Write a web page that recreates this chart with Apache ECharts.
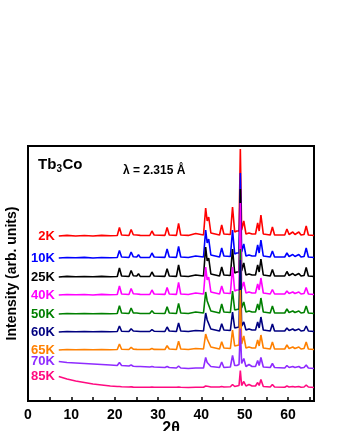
<!DOCTYPE html>
<html>
<head>
<meta charset="utf-8">
<script src="https://cdn.jsdelivr.net/npm/echarts@6/dist/echarts.min.js"></script>
<style>
  html, body { margin: 0; padding: 0; background: #fff; }
  #chart { width: 339px; height: 431px; }
</style>
</head>
<body>
<div id="chart"></div>
<script>
// 2theta sample points (peak tops and the baseline between them)
var twoTheta = [
  7.1, 9, 11, 13, 15, 17, 19, 20.6, 21.1, 21.6, 23.3,
  23.8, 24.3, 25.1, 25.5, 25.9, 28.1, 28.6, 29.1, 31.6, 32.1, 32.6,
  34.25, 34.75, 35.25, 37, 38.7, 40.5, 41.0, 41.35, 41.7, 42.2, 44.2,
  44.7, 45.2, 46.7, 47.2, 47.7, 48.2, 48.7, 49.0, 49.3, 49.8, 50.3,
  51.0, 51.7, 52.5, 53.0, 53.35, 53.75, 54.3, 55.9, 56.4, 56.9, 59.25,
  59.75, 60.25, 61.1, 61.6, 62.0, 62.5, 63.0, 63.7, 64.2, 64.7, 66.0
];

var temps = ['2K', '10K', '25K', '40K', '50K', '60K', '65K', '70K', '85K'];
// vertical shift of each pattern
var offsets = [165, 143, 124, 106, 87, 69, 51, 32.5, 13.5];
var colors = ['#ff0000', '#0000ff', '#000000', '#ff00ff', '#008000', '#000080', '#ff8000', '#8f2cff', '#ff0a80'];

// intensity above baseline
var i2K = [
  0, 0.6, 0, 0.5, 0, 0.6, 0.2, 0.5, 8.5, 1, 0.5,
  6.5, 1.2, 1, 3, 0.6, 0.5, 5, 1, 0.6, 8.5, 1,
  0.6, 12.5, 1, 0.6, 2.5, 1, 28, 15, 19, 3, 1,
  11, 2, 1.5, 29, 4, 5, 5, 87, 6, 15, 2,
  3, 2, 2, 13, 5, 21, 2, 1, 9, 1, 1,
  7, 1.5, 4, 1.5, 1, 4, 1, 1.5, 10, 1, 0.5
];
var i10K = [
  0, 0.5, 0.2, 0.6, 0, 0.5, 0.3, 0.5, 7.5, 1, 0.5,
  6, 1.2, 1, 3.3, 0.6, 0.5, 5, 1, 0.6, 9, 1,
  0.6, 11.5, 1, 0.5, 2, 1, 28, 15, 19, 3, 1,
  10, 2, 1.5, 28, 4, 5, 5, 85, 6, 14, 2,
  3, 2, 2, 13, 5, 18, 2, 1, 7, 1, 1,
  5, 1.5, 3.5, 1.5, 1, 3.5, 1, 1.5, 10, 1, 0.5
];
var i25K = [
  0, 0.6, 0.3, 0.5, 0.2, 0.6, 0.3, 0.5, 9, 1, 0.5,
  6.5, 1.2, 1, 3.3, 0.6, 0.5, 5, 1, 0.6, 8.3, 1,
  0.6, 12, 1, 0.5, 2, 1, 30, 16, 19, 3, 1,
  10, 2, 1.5, 28, 4, 5, 5, 88, 6, 14, 2,
  3, 2, 2, 12, 5, 18, 2, 1, 7.5, 1, 1,
  5.5, 1.5, 3.5, 1.5, 1, 3.5, 1, 1.5, 9.5, 1, 0.5
];
var i40K = [
  0, 0.5, 0.2, 0.5, 0, 0.6, 0.2, 0.5, 9, 1, 0.5,
  6.5, 1.2, 1, 2.5, 0.6, 0.5, 5, 1, 0.6, 7.5, 1,
  0.6, 12.5, 1, 0.5, 2, 1, 28, 15, 18, 3, 1,
  9, 2, 1.5, 28, 4, 5, 5, 92, 6, 13, 2,
  3, 2, 2, 11, 5, 17, 2, 1, 5.5, 1, 1,
  4, 1.5, 3, 1.5, 1, 3, 1, 1.5, 7.5, 1, 0.5
];
var i50K = [
  0, 0.5, 0.2, 0.5, 0.2, 0.5, 0.3, 0.5, 8.3, 1, 0.5,
  6, 1, 1, 2, 0.5, 0.5, 3.3, 0.8, 0.5, 7.3, 1,
  0.5, 10.7, 1, 0.5, 2, 1, 22, 13, 13, 3, 1,
  10, 2, 1.5, 23, 4, 4.5, 5, 65, 6, 12, 2,
  3, 2, 2, 10, 4, 16, 2, 1, 8, 1, 1,
  5, 1.5, 3, 1.5, 1, 3, 1, 1.5, 8, 1, 0.5
];
var i60K = [
  0, 0.5, 0.2, 0.5, 0.2, 0.5, 0.3, 0.5, 6, 0.8, 0.5,
  3.3, 1, 0.8, 1.5, 0.5, 0.5, 2.3, 0.8, 0.5, 5, 1,
  0.5, 9, 1, 0.5, 1.5, 1, 19, 12, 12, 3, 1,
  8.3, 2, 1.5, 20, 4, 4.5, 5, 72, 6, 10, 2,
  3, 2, 2, 10, 4, 15, 2, 1, 8, 1, 1,
  4, 1.5, 3, 1.5, 1, 3, 1, 1.5, 6, 1, 0.5
];
var i65K = [
  0, 0.5, 0.2, 0.5, 0.2, 0.5, 0.3, 0.5, 6, 0.8, 0.5,
  2.7, 0.8, 0.6, 1, 0.5, 0.5, 1.5, 0.6, 0.5, 4.3, 1,
  0.5, 8.7, 1, 0.5, 1.5, 1, 16, 11, 12, 3, 1,
  8.3, 2, 1.5, 20, 4, 4.5, 5, 60, 6, 14, 2,
  3, 2, 2, 10, 4, 15, 2, 1, 8, 1, 1,
  5, 1.5, 3, 1.5, 1, 3, 1, 1.5, 8, 1, 0.5
];
var i70K = [
  7, 6, 5.5, 5, 4.5, 4, 3.5, 3, 6, 3, 2.5,
  3.5, 2.3, 2, 2, 2, 1.5, 2, 1.5, 1, 2, 1,
  0.5, 2.5, 0.5, 0, 0.5, 0.5, 11, 6, 8, 2, 1,
  6.5, 1, 1.5, 13, 3, 3, 4, 40, 5, 10, 2,
  4, 2, 2, 8, 3, 11, 1.5, 1, 5, 1, 0.5,
  3, 1, 2, 1, 1, 2, 0.5, 1, 3.5, 0.5, 0
];
var i85K = [
  11, 8.5, 6.5, 5, 3.5, 2.5, 1.5, 1, 1, 0.8, 0.5,
  0.6, 0.4, 0.3, 0.4, 0.3, 0.2, 0.4, 0.2, 0.2, 0.3, 0.2,
  0.2, 0.4, 0.2, 0, 0.3, 0.3, 1.5, 0.8, 1, 0.5, 0.5,
  1, 0.5, 0.8, 3, 1, 1.5, 2, 17, 2, 6, 1.5,
  3, 1.5, 1.5, 5, 2, 8, 1, 0.5, 3, 0.5, 0.3,
  1.5, 0.5, 1, 0.5, 0.5, 1, 0.3, 0.5, 2.5, 0.5, 0
];
var intensities = [i2K, i10K, i25K, i40K, i50K, i60K, i65K, i70K, i85K];

var xTicks = [0, 10, 20, 30, 40, 50, 60];

var font = 'Arial, "Liberation Sans", sans-serif';
var chart = echarts.init(document.getElementById('chart'));

var series = temps.map(function (name, k) {
  var data = twoTheta.map(function (t, i) {
    var p = [t, offsets[k] + intensities[k][i]];
    if (i === 0) {
      // temperature tag at the left end of each pattern
      return {
        value: p,
        label: {
          show: true, position: 'left', distance: 4, formatter: name,
          color: colors[k], fontSize: 13, fontWeight: 'bold', fontFamily: font
        }
      };
    }
    return p;
  });
  return {
    type: 'line',
    name: name,
    data: data,
    symbol: 'circle',
    symbolSize: 0,
    showSymbol: true,
    showAllSymbol: true,
    lineStyle: { color: colors[k], width: 1.6 },
    itemStyle: { color: colors[k] },
    label: { show: false },
    silent: true
  };
});

var option = {
  animation: false,
  grid: {
    left: 28, right: 25, top: 146, bottom: 30,
    outerBoundsMode: 'none',
    containLabel: false,
    show: true, borderColor: '#000', borderWidth: 2
  },
  xAxis: {
    type: 'value',
    min: 0, max: 66, interval: 5,
    name: '2θ', nameLocation: 'middle', nameGap: 20,
    nameMoveOverlap: false,
    nameTextStyle: { fontSize: 16, fontWeight: 'bold', color: '#000', fontFamily: font },
    axisLine: { lineStyle: { color: '#000', width: 2 } },
    axisTick: { inside: true, length: 4, lineStyle: { color: '#000', width: 1.5 } },
    axisLabel: {
      fontSize: 14, fontWeight: 'bold', color: '#000', fontFamily: font, margin: 7,
      formatter: function (v) { return xTicks.indexOf(v) >= 0 ? String(v) : ''; }
    },
    splitLine: { show: false }
  },
  yAxis: {
    type: 'value',
    min: 0, max: 255,
    name: 'Intensity (arb. units)', nameLocation: 'middle', nameGap: 9,
    nameMoveOverlap: false,
    nameTextStyle: { fontSize: 14, fontWeight: 'bold', color: '#000', fontFamily: font },
    axisLine: { show: true, lineStyle: { color: '#000', width: 2 } },
    axisTick: { show: false },
    axisLabel: { show: false },
    splitLine: { show: false }
  },
  graphic: [
    { type: 'text', left: 38, top: 157, style: { text: 'Tb', font: 'bold 15px ' + font, fill: '#000' } },
    { type: 'text', left: 56.5, top: 164, style: { text: '3', font: 'bold 10px ' + font, fill: '#000' } },
    { type: 'text', left: 62.5, top: 157, style: { text: 'Co', font: 'bold 15px ' + font, fill: '#000' } },
    { type: 'text', left: 123, top: 165, style: { text: 'λ = 2.315 Å', font: 'bold 12px ' + font, fill: '#000' } }
  ],
  series: series
};

chart.setOption(option);
</script>
</body>
</html>
